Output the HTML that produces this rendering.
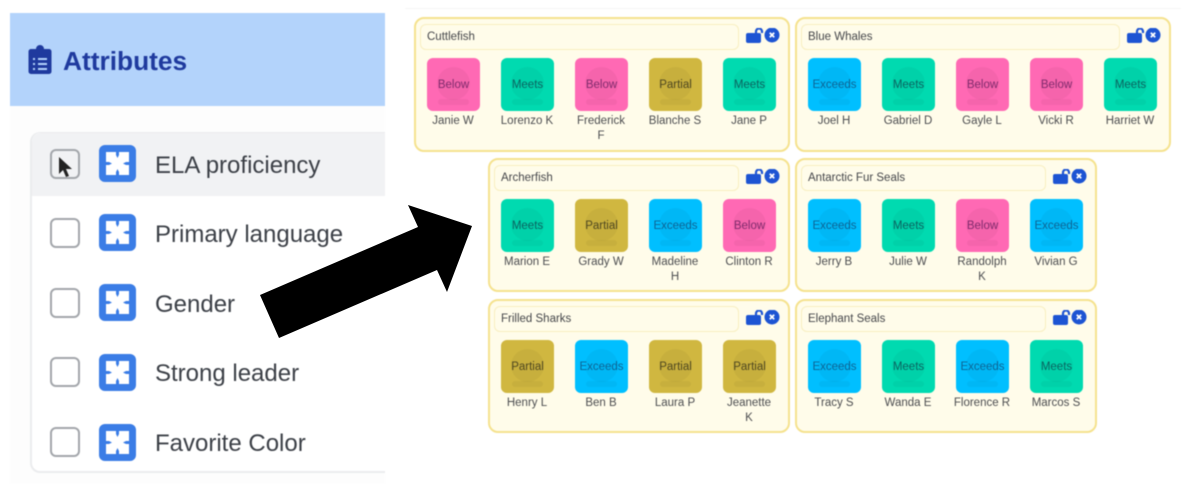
<!DOCTYPE html>
<html lang="en">
<head>
<meta charset="utf-8">
<title>Attributes grouping</title>
<style>
html,body{margin:0;padding:0;background:#fff}
body{width:1186px;height:484px;position:relative;overflow:hidden;font-family:"Liberation Sans",sans-serif}
.abs{position:absolute}
#ui{position:absolute;left:0;top:0;width:1186px;height:484px;filter:blur(.4px)}
.hdr{left:10px;top:13px;width:375px;height:93px;background:#b3d3fb}
.hdr span{position:absolute;left:53px;top:31px;font-size:26.300px;line-height:34px;font-weight:bold;color:#1f3a9e}
.bg{left:10px;top:106px;width:375px;height:378px;background:#fdfdfd}
.card{left:30px;top:132px;width:355px;height:341px;background:#fff;border:solid #ebecee;border-width:1px 0 2px 2px;border-radius:10px 0 0 10px;box-sizing:border-box}
.first{left:32px;top:133px;width:353px;height:63px;background:#f1f2f4;border-radius:9px 0 0 0}
.cb{position:absolute;left:50px;width:30px;height:30px;box-sizing:border-box;border:2.500px solid #a3a6ab;border-radius:6px}
.ic{position:absolute;left:99px;width:37px;height:37px}
.lb{position:absolute;left:155px;font-size:24px;line-height:30px;color:#3c4047;white-space:nowrap}
.p{position:absolute;box-sizing:border-box;background:#fffcea;border:2px solid #f5e28e;border-radius:10px;height:135px}
.in{position:absolute;left:4px;top:5px;height:26px;box-sizing:border-box;background:#fffcea;border:1.500px solid #f8efc0;border-radius:6px;font-size:11.500px;line-height:25px;color:#45464a;padding-left:6px}
.lk{position:absolute;top:9px;width:36px;height:18px}
.t{position:absolute;top:39px;width:53px;height:53px;border-radius:6px;overflow:hidden;text-align:center;font-size:11.500px;line-height:55px}
.t i{position:absolute;left:10px;top:9px;width:33px;height:33px;border-radius:50%;background:rgba(0,0,0,.04)}
.t b{position:absolute;left:11px;top:41px;width:31px;height:6px;border-radius:3px;background:rgba(0,0,0,.04)}
.t span{position:relative}
.B{background:#ff69b4;color:#7e2a6c}
.M{background:#00dab0;color:#0a6460}
.P{background:#d0b740;color:#4e4720}
.E{background:#00bfff;color:#0d6494}
.n{position:absolute;top:95px;width:74px;text-align:center;font-size:11.500px;line-height:15px;color:#4c4d50;white-space:nowrap}
.c0{left:11px}.c1{left:85px}.c2{left:159px}.c3{left:233px}.c4{left:307px}
.n0{left:0}.n1{left:74px}.n2{left:148px}.n3{left:222px}.n4{left:296px}
</style>
</head>
<body>
<svg width="0" height="0" style="position:absolute">
<defs>
<symbol id="pz" viewBox="0 0 37 37">
<rect width="37" height="37" rx="6" fill="#3b7de6"/>
<rect x="7" y="7" width="23" height="23" fill="#fff"/>
<path fill="#3b7de6" d="M17 7h3v3l-1.500 3-1.500-3zM17 30h3v-3l-1.500-3-1.500 3zM7 17v3h3l3-1.500-3-1.500zM30 17v3h-3l-3-1.500 3-1.500z"/>
</symbol>
<symbol id="lk" viewBox="0 0 36 18">
<rect x="0" y="5" width="15" height="10" rx="2" fill="#1d54d3"/>
<path d="M10 6V3.500a3 3 0 0 1 6 0V5" fill="none" stroke="#1d54d3" stroke-width="2.200"/>
<circle cx="26" cy="7" r="7.500" fill="#1d54d3"/>
<path d="M23.800 4.800l4.400 4.400m0-4.400l-4.400 4.400" stroke="#fff" stroke-width="1.800"/>
</symbol>
</defs>
</svg>

<div id="ui">
<div class="abs bg"></div>
<div class="abs hdr"><span>Attributes</span></div>
<svg class="abs" style="left:28px;top:45px" width="24" height="30" viewBox="0 0 24 30">
<path fill="#1f3a9e" d="M3 4h5a4 4 0 0 1 8 0h5a2.500 2.500 0 0 1 2.500 2.500v20a2.500 2.500 0 0 1-2.500 2.500H3A2.500 2.500 0 0 1 .5 26.500v-20A2.500 2.500 0 0 1 3 4z"/>
<path stroke="#b3d3fb" stroke-width="2" d="M5 14h2m3 0h9M5 19h2m3 0h9M5 24h2m3 0h9"/>
</svg>
<div class="abs card"></div>
<div class="abs first"></div>

<div class="cb" style="top:149px"></div>
<svg class="abs" style="left:57px;top:156px" width="18" height="24" viewBox="0 0 18 24"><path d="M2 1v17l4-4 3 7 3-1-3-7h6z" fill="#222"/></svg>
<svg class="ic" style="top:145px"><use href="#pz"/></svg>
<div class="lb" style="top:151px">ELA proficiency</div>

<div class="cb" style="top:218px"></div>
<svg class="ic" style="top:214px"><use href="#pz"/></svg>
<div class="lb" style="top:220px">Primary language</div>

<div class="cb" style="top:288px"></div>
<svg class="ic" style="top:284px"><use href="#pz"/></svg>
<div class="lb" style="top:290px">Gender</div>

<div class="cb" style="top:357px"></div>
<svg class="ic" style="top:354px"><use href="#pz"/></svg>
<div class="lb" style="top:359px">Strong leader</div>

<div class="cb" style="top:427px"></div>
<svg class="ic" style="top:424px"><use href="#pz"/></svg>
<div class="lb" style="top:429px">Favorite Color</div>

<div class="abs" style="left:405px;top:8px;width:776px;height:1px;background:#f6f6f6"></div>

<!-- Cuttlefish -->
<div class="p" style="left:414px;top:17px;width:376px">
<div class="in" style="width:319px">Cuttlefish</div><svg class="lk" style="left:330px"><use href="#lk"/></svg>
<div class="t B c0"><i></i><b></b><span>Below</span></div><div class="n n0">Janie W</div>
<div class="t M c1"><i></i><b></b><span>Meets</span></div><div class="n n1">Lorenzo K</div>
<div class="t B c2"><i></i><b></b><span>Below</span></div><div class="n n2">Frederick<br>F</div>
<div class="t P c3"><i></i><b></b><span>Partial</span></div><div class="n n3">Blanche S</div>
<div class="t M c4"><i></i><b></b><span>Meets</span></div><div class="n n4">Jane P</div>
</div>

<!-- Blue Whales -->
<div class="p" style="left:795px;top:17px;width:376px">
<div class="in" style="width:319px">Blue Whales</div><svg class="lk" style="left:330px"><use href="#lk"/></svg>
<div class="t E c0"><i></i><b></b><span>Exceeds</span></div><div class="n n0">Joel H</div>
<div class="t M c1"><i></i><b></b><span>Meets</span></div><div class="n n1">Gabriel D</div>
<div class="t B c2"><i></i><b></b><span>Below</span></div><div class="n n2">Gayle L</div>
<div class="t B c3"><i></i><b></b><span>Below</span></div><div class="n n3">Vicki R</div>
<div class="t M c4"><i></i><b></b><span>Meets</span></div><div class="n n4">Harriet W</div>
</div>

<!-- Archerfish -->
<div class="p" style="left:488px;top:158px;width:302px;height:134px">
<div class="in" style="width:245px">Archerfish</div><svg class="lk" style="left:256px"><use href="#lk"/></svg>
<div class="t M c0"><i></i><b></b><span>Meets</span></div><div class="n n0">Marion E</div>
<div class="t P c1"><i></i><b></b><span>Partial</span></div><div class="n n1">Grady W</div>
<div class="t E c2"><i></i><b></b><span>Exceeds</span></div><div class="n n2">Madeline<br>H</div>
<div class="t B c3"><i></i><b></b><span>Below</span></div><div class="n n3">Clinton R</div>
</div>

<!-- Antarctic Fur Seals -->
<div class="p" style="left:795px;top:158px;width:302px;height:134px">
<div class="in" style="width:245px">Antarctic Fur Seals</div><svg class="lk" style="left:256px"><use href="#lk"/></svg>
<div class="t E c0"><i></i><b></b><span>Exceeds</span></div><div class="n n0">Jerry B</div>
<div class="t M c1"><i></i><b></b><span>Meets</span></div><div class="n n1">Julie W</div>
<div class="t B c2"><i></i><b></b><span>Below</span></div><div class="n n2">Randolph<br>K</div>
<div class="t E c3"><i></i><b></b><span>Exceeds</span></div><div class="n n3">Vivian G</div>
</div>

<!-- Frilled Sharks -->
<div class="p" style="left:488px;top:299px;width:302px;height:134px">
<div class="in" style="width:245px">Frilled Sharks</div><svg class="lk" style="left:256px"><use href="#lk"/></svg>
<div class="t P c0"><i></i><b></b><span>Partial</span></div><div class="n n0">Henry L</div>
<div class="t E c1"><i></i><b></b><span>Exceeds</span></div><div class="n n1">Ben B</div>
<div class="t P c2"><i></i><b></b><span>Partial</span></div><div class="n n2">Laura P</div>
<div class="t P c3"><i></i><b></b><span>Partial</span></div><div class="n n3">Jeanette<br>K</div>
</div>

<!-- Elephant Seals -->
<div class="p" style="left:795px;top:299px;width:302px;height:134px">
<div class="in" style="width:245px">Elephant Seals</div><svg class="lk" style="left:256px"><use href="#lk"/></svg>
<div class="t E c0"><i></i><b></b><span>Exceeds</span></div><div class="n n0">Tracy S</div>
<div class="t M c1"><i></i><b></b><span>Meets</span></div><div class="n n1">Wanda E</div>
<div class="t E c2"><i></i><b></b><span>Exceeds</span></div><div class="n n2">Florence R</div>
<div class="t M c3"><i></i><b></b><span>Meets</span></div><div class="n n3">Marcos S</div>
</div>
</div>

<svg class="abs" style="left:0;top:0" width="1186" height="484">
<polygon fill="#000" points="260,295 418,227 408,205 472,226 447,292 437,270 279,338"/>
</svg>
</body>
</html>
